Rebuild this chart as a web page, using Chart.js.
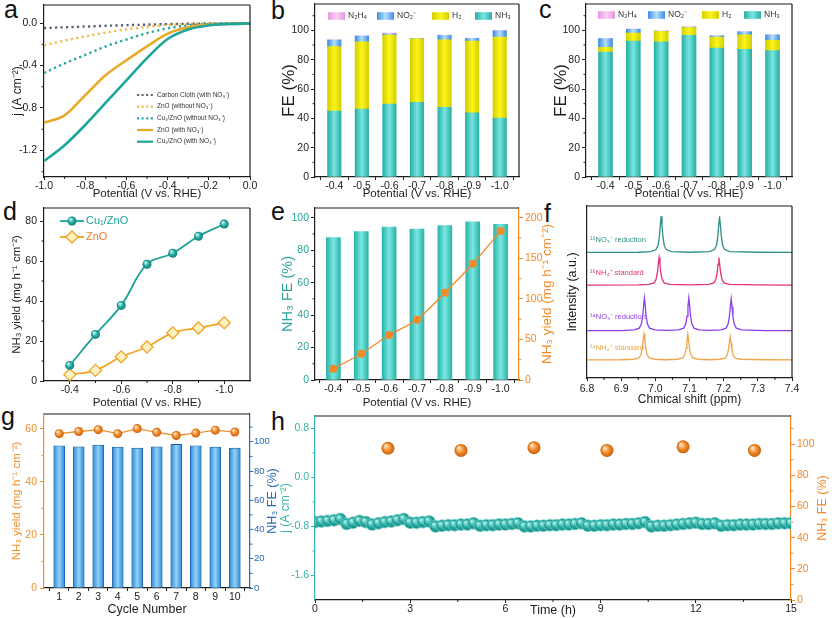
<!DOCTYPE html>
<html><head><meta charset="utf-8">
<script src="https://cdn.jsdelivr.net/npm/chart.js@4.4.0/dist/chart.umd.min.js"></script>
<style>
html,body{margin:0;padding:0;background:#fff;}
#root{position:relative;width:832px;height:618px;overflow:hidden;background:#fff;}
canvas{position:absolute;}
.lbl{position:absolute;font-family:'Liberation Sans',Arial,sans-serif;font-size:25px;color:#111;line-height:1;}
</style></head><body><div id="root">
<div class="lbl" style="left:4px;top:-3px">a</div>
<div class="lbl" style="left:271px;top:-2px">b</div>
<div class="lbl" style="left:539px;top:-3px">c</div>
<div class="lbl" style="left:3px;top:199px">d</div>
<div class="lbl" style="left:271px;top:199px">e</div>
<div class="lbl" style="left:544px;top:201px">f</div>
<div class="lbl" style="left:1px;top:404px">g</div>
<div class="lbl" style="left:271px;top:409px">h</div>
</div>
<script>
// ---------------- DATA ----------------
// (a) LSV curves
const potA = [-1.0,-0.9,-0.8,-0.7,-0.6,-0.5,-0.4,-0.3,-0.2,-0.1,0.0];
const jCuWith     = [-1.30,-1.15,-0.96,-0.75,-0.54,-0.33,-0.15,-0.06,-0.022,-0.009,-0.004];
const jZnOWith    = [-0.94,-0.87,-0.68,-0.49,-0.35,-0.22,-0.10,-0.04,-0.016,-0.008,-0.004];
const jCuWithout  = [-0.47,-0.38,-0.30,-0.22,-0.155,-0.095,-0.05,-0.022,-0.01,-0.005,-0.003];
const jZnOWithout = [-0.21,-0.165,-0.125,-0.09,-0.06,-0.035,-0.018,-0.008,-0.004,-0.002,-0.001];
const jCarbon     = [-0.047,-0.04,-0.033,-0.026,-0.02,-0.015,-0.01,-0.007,-0.004,-0.002,-0.001];
const xTicksA = [-1.0,-0.8,-0.6,-0.4,-0.2,0.0];
const yTicksA = [0.0,-0.4,-0.8,-1.2];

// (b)(c) FE stacks
const potentials = [-0.4,-0.5,-0.6,-0.7,-0.8,-0.9,-1.0];
const feB_NH3  = [45.0,46.3,49.8,50.9,47.5,43.8,40.2];
const feB_H2   = [44.0,45.9,47.0,43.4,46.1,48.9,55.2];
const feB_NO2  = [4.4,3.9,0.8,0.2,3.0,1.8,4.3];
const feB_N2H4 = [0.2,0.2,0.6,0.1,0.2,0.2,0.3];
const feC_NH3  = [85.2,92.7,92.2,96.6,87.9,87.0,86.3];
const feC_H2   = [3.2,5.5,7.1,5.4,7.5,10.0,6.9];
const feC_NO2  = [6.0,2.6,0.2,0.3,0.8,2.0,3.7];
const feC_N2H4 = [0.1,0.1,0.1,0.1,0.1,0.1,0.1];
const feTicks = [0,20,40,60,80,100];

// (d) NH3 yield
const yieldCu  = [7.8,23.3,37.8,58.4,63.9,72.4,78.5];
const yieldZnO = [3.2,5.3,12.1,17.0,24.1,26.5,29.1];
const xTicksD = [-0.4,-0.6,-0.8,-1.0];
const yTicksD = [0,20,40,60,80];

// (e) FE + yield
const feE    = [87.7,91.4,94.3,93.0,95.1,97.5,95.9];
const yieldE = [14.0,32.4,55.4,74.3,107.6,143.3,183.6];
const yTicksE1 = [0,50,100,150,200];

// (f) 1H NMR traces [ppm, intensity]
const nmr15NO3 = [[6.80,73.0],[6.95,73.1],[6.987,73.5],[7.002,74.7],[7.008,77.2],[7.012,82.5],[7.0145,88.8],[7.017,94.0],[7.0195,88.8],[7.022,82.5],[7.026,77.2],[7.032,74.7],[7.047,73.5],[7.10,73.1],[7.158,73.5],[7.173,74.7],[7.179,77.2],[7.183,82.5],[7.1855,88.8],[7.188,94.0],[7.1905,88.8],[7.193,82.5],[7.197,77.2],[7.203,74.7],[7.218,73.5],[7.30,73.1],[7.40,73.0]];
const nmr15NH4 = [[6.80,54.0],[6.95,54.1],[6.981,54.4],[6.996,55.3],[7.002,57.2],[7.006,61.2],[7.0085,66.0],[7.011,70.0],[7.0135,66.0],[7.016,61.2],[7.020,57.2],[7.026,55.3],[7.041,54.4],[7.10,54.1],[7.156,54.4],[7.171,55.3],[7.177,57.2],[7.181,61.2],[7.1835,66.0],[7.186,70.0],[7.1885,66.0],[7.191,61.2],[7.195,57.2],[7.201,55.3],[7.216,54.4],[7.30,54.1],[7.40,54.0]];
const nmr14NO3 = [[6.80,27.5],[6.90,27.6],[6.938,28.0],[6.953,29.0],[6.959,31.3],[6.963,36.05],[6.9655,41.75],[6.968,46.5],[6.9705,41.75],[6.973,36.05],[6.977,31.3],[6.983,29.0],[6.998,28.0],[7.03,27.7],[7.068,28.0],[7.083,29.0],[7.089,31.3],[7.093,36.05],[7.0955,41.75],[7.098,46.5],[7.1005,41.75],[7.103,36.05],[7.107,31.3],[7.113,29.0],[7.128,28.0],[7.16,27.7],[7.192,28.0],[7.207,29.0],[7.213,31.3],[7.217,36.05],[7.2195,41.4],[7.222,46.0],[7.2245,41.4],[7.227,35.8],[7.231,31.2],[7.237,29.0],[7.252,28.0],[7.32,27.6],[7.40,27.5]];
const nmr14NH4 = [[6.80,10.5],[6.90,10.6],[6.937,10.9],[6.952,11.7],[6.958,13.5],[6.962,17.25],[6.9645,21.75],[6.967,25.5],[6.9695,21.75],[6.972,17.25],[6.976,13.5],[6.982,11.7],[6.997,10.9],[7.03,10.6],[7.065,10.9],[7.080,11.7],[7.086,13.5],[7.090,17.25],[7.0925,21.75],[7.095,25.5],[7.0975,21.75],[7.100,17.25],[7.104,13.5],[7.110,11.7],[7.125,10.9],[7.16,10.6],[7.189,10.9],[7.204,11.6],[7.210,13.2],[7.214,16.5],[7.2165,20.5],[7.219,24.0],[7.2215,20.5],[7.224,16.5],[7.228,13.2],[7.234,11.6],[7.249,10.9],[7.32,10.6],[7.40,10.5]];
const xTicksF = [6.8,6.9,7.0,7.1,7.2,7.3,7.4];

// (g) cycling
const cycles = [1,2,3,4,5,6,7,8,9,10];
const yieldG = [58.2,59.0,59.7,58.2,60.1,58.7,57.5,58.4,59.5,58.8];
const feG    = [97.3,96.6,97.7,96.4,95.7,96.6,98.2,97.3,96.4,95.7];
const yTicksG = [0,20,40,60];

// (h) long-term stability
const timeH = [0,0.2,0.4,0.6,0.8,1.0,1.2,1.4,1.6,1.8,2.0,2.2,2.4,2.6,2.8,3.0,3.2,3.4,3.6,3.8,4.0,4.2,4.4,4.6,4.8,5.0,5.2,5.4,5.6,5.8,6.0,6.2,6.4,6.6,6.8,7.0,7.2,7.4,7.6,7.8,8.0,8.2,8.4,8.6,8.8,9.0,9.2,9.4,9.6,9.8,10.0,10.2,10.4,10.6,10.8,11.0,11.2,11.4,11.6,11.8,12.0,12.2,12.4,12.6,12.8,13.0,13.2,13.4,13.6,13.8,14.0,14.2,14.4,14.6,14.8,15.0];
const jH = [-0.73,-0.72,-0.71,-0.70,-0.68,-0.76,-0.74,-0.71,-0.73,-0.77,-0.75,-0.73,-0.72,-0.70,-0.68,-0.74,-0.74,-0.73,-0.72,-0.80,-0.79,-0.78,-0.78,-0.77,-0.77,-0.75,-0.79,-0.78,-0.78,-0.77,-0.77,-0.76,-0.75,-0.80,-0.80,-0.79,-0.79,-0.78,-0.78,-0.77,-0.77,-0.76,-0.75,-0.79,-0.79,-0.78,-0.78,-0.77,-0.77,-0.76,-0.76,-0.75,-0.73,-0.80,-0.79,-0.79,-0.78,-0.77,-0.76,-0.75,-0.74,-0.76,-0.76,-0.75,-0.79,-0.78,-0.78,-0.77,-0.77,-0.77,-0.76,-0.76,-0.76,-0.75,-0.75,-0.75];
const feTimeH = [2.3,4.6,6.9,9.2,11.6,13.85];
const feH = [97.3,95.9,97.7,95.9,98.2,95.9];
const xTicksH = [0,3,6,9,12,15];
const yTicksH = [0.8,0.0,-0.8,-1.6];

// ---------------- STYLE ----------------
const FF = "'Liberation Sans', Arial, Helvetica, sans-serif";
const INK = '#1c1c1c';
const TEAL_A = '#1ea69c', OR_A = '#e8aa2a', YEL_A = '#f1ba4c', GRAY_A = '#596174';
const G_NH3 = ['#2aaea6','#76e6de','#2aaea6'];
const G_H2 = ['#d6cf00','#fbf51c','#d6cf00'];
const G_NO2 = ['#3a8ee6','#b6defa','#3a8ee6'];
const G_N2H4 = ['#e596de','#fbd0f5','#e596de'];
const G_NH3E = ['#2cb3aa','#7ae8e0','#2cb3aa'];
const G_BLUE = ['#2e8ad6','#92d2f8','#2e8ad6'];
const TEAL_D = '#1ba39a', OR_D = '#f0a524';
const TEAL_E = '#2aa39b', OR_E = '#f08a2a';
const OR_G = '#f0902c', BLUE_G = '#2868b0';
const TEAL_H = '#38b2aa', OR_H = '#f08a2a';
const TEAL_SPH = ['#c8f4f0','#21aaa0','#137f78'];
const OR_SPH = ['#ffe2bc','#f08a28','#c8600c'];
const TEAL_SPH2 = ['#a8ece6','#23aba1','#168a82'];
const C15NO3 = '#2e8f87', C15NH4 = '#e2307c', C14NO3 = '#8c3fe6', C14NH4 = '#f0a54a';

// ---------------- HELPERS ----------------
const root = document.getElementById('root');
const fmt = (v, d) => (Math.abs(v) < 1e-9 ? 0 : v).toFixed(d);
const pts = (xs, ys) => xs.map((x, i) => ({x, y: ys[i]}));
const pairs = arr => arr.map(p => ({x: p[0], y: p[1]}));

function sphereGrad(ctx, x, y, r, c) {
  const g = ctx.createRadialGradient(x - r*0.35, y - r*0.4, r*0.1, x, y, r);
  g.addColorStop(0, c[0]); g.addColorStop(0.55, c[1]); g.addColorStop(1, c[2]);
  return g;
}
const sphereBg = (cols, r, yid) => c => {
  if (c.type !== 'data' || !c.chart.chartArea) return cols[1];
  const ch = c.chart;
  const x = ch.scales.x.getPixelForValue(c.parsed.x), y = ch.scales[yid].getPixelForValue(c.parsed.y);
  return sphereGrad(ch.ctx, x, y, r, cols);
};
const barBg = (cols, w) => c => {
  if (c.type !== 'data' || !c.chart.chartArea) return cols[1];
  const ch = c.chart; const x = ch.scales.x.getPixelForValue(c.parsed.x);
  const g = ch.ctx.createLinearGradient(x - w/2, 0, x + w/2, 0);
  g.addColorStop(0, cols[0]); g.addColorStop(0.5, cols[1]); g.addColorStop(1, cols[2]);
  return g;
};
function barDs(xs, ys, cols, w, yid, border) {
  return {type:'bar', data: pts(xs, ys), backgroundColor: barBg(cols, w), barThickness: w,
    borderWidth: border ? 0.8 : 0, borderColor: border || 'transparent', yAxisID: yid || 'y'};
}
function lineDs(xs, ys, color, w, dash) {
  return {data: pts(xs, ys), borderColor: color, borderWidth: w, borderDash: dash || [], pointRadius: 0,
    cubicInterpolationMode: 'monotone', fill: false};
}

function mkAxis(o) {
  const col = o.color || INK;
  const horiz = (o.pos === 'bottom' || o.pos === 'top');
  return {
    type:'linear', position:o.pos, min:o.min, max:o.max, reverse:!!o.reverse, stacked:!!o.stacked,
    offset:false, bounds:'data',
    afterBuildTicks: s => { s.ticks = o.ticks.map(v => ({value: v})); },
    afterFit: s => {
      if (horiz) s.height = o.fix; else s.width = o.fix;
      s.paddingLeft = s.paddingRight = s.paddingTop = s.paddingBottom = 0;
    },
    ticks:{display: o.labels !== false, callback: v => fmt(v, o.dec || 0), color: o.labelColor || col,
      font:{family:FF, size:o.size || 10.5}, padding: o.tpad == null ? (horiz ? 0 : 2) : o.tpad,
      maxRotation:0, minRotation:0, autoSkip:false},
    grid:{display:true, drawOnChartArea:false, drawTicks:true, tickLength: o.tl == null ? (horiz ? 3 : 4) : o.tl, color: col, lineWidth:1},
    border:{display:true, color: col, width:1.2},
    title: o.title ? {display:true, text:o.title, color:o.titleColor || col,
      font:{family:FF, size:o.titleSize || 12}, padding: o.titlePad || 0} : {display:false}
  };
}

function drawShape(ctx, s, off) {
  ctx.save();
  if (s.k === 'line') {
    ctx.strokeStyle = s.c; ctx.lineWidth = s.w || 2; ctx.setLineDash(s.dash || []);
    ctx.beginPath(); ctx.moveTo(s.x1 - off[0], s.y1 - off[1]); ctx.lineTo(s.x2 - off[0], s.y2 - off[1]); ctx.stroke();
  } else if (s.k === 'box') {
    const x = s.x - off[0], y = s.y - off[1];
    const g = ctx.createLinearGradient(x, 0, x + s.w, 0);
    g.addColorStop(0, s.g[0]); g.addColorStop(0.5, s.g[1]); g.addColorStop(1, s.g[2]);
    ctx.fillStyle = g; ctx.fillRect(x, y, s.w, s.h);
  } else if (s.k === 'pt') {
    const x = s.x - off[0], y = s.y - off[1];
    ctx.fillStyle = s.sph ? sphereGrad(ctx, x, y, s.r, s.sph) : s.fill;
    ctx.strokeStyle = s.stroke || 'rgba(0,0,0,0)'; ctx.lineWidth = s.bw || 0;
    Chart.helpers.drawPoint(ctx, {pointStyle: s.style || 'circle', radius: s.r, rotation: 0, borderWidth: s.bw || 0}, x, y);
  }
  ctx.restore();
}

const deco = {
  id: 'deco',
  defaults: {},
  afterDraw(chart, args, o) {
    const ctx = chart.ctx, ca = chart.chartArea, off = o.off || [0, 0];
    ctx.save();
    ctx.lineWidth = 1.2;
    if (o.top) { ctx.strokeStyle = o.top; ctx.beginPath(); ctx.moveTo(ca.left, ca.top); ctx.lineTo(ca.right, ca.top); ctx.stroke(); }
    if (o.right) { ctx.strokeStyle = o.right; ctx.beginPath(); ctx.moveTo(ca.right, ca.top); ctx.lineTo(ca.right, ca.bottom); ctx.stroke(); }
    (o.minor || []).forEach(m => {
      const s = chart.scales[m.id]; const majors = s.ticks.map(t => t.value);
      ctx.strokeStyle = s.options.grid.color; ctx.lineWidth = 1;
      const k0 = Math.ceil(s.min / m.step - 1e-6), k1 = Math.floor(s.max / m.step + 1e-6);
      for (let k = k0; k <= k1; k++) {
        const v = k * m.step;
        if (majors.some(mv => Math.abs(mv - v) < m.step * 0.05)) continue;
        if (Math.abs(v - s.min) < m.step * 0.05 || Math.abs(v - s.max) < m.step * 0.05) continue;
        const p = s.getPixelForValue(v);
        ctx.beginPath();
        if (s.position === 'bottom') { ctx.moveTo(p, ca.bottom); ctx.lineTo(p, ca.bottom + 2); }
        else if (s.position === 'left') { ctx.moveTo(ca.left, p); ctx.lineTo(ca.left - 2.5, p); }
        else { ctx.moveTo(ca.right, p); ctx.lineTo(ca.right + 2.5, p); }
        ctx.stroke();
      }
    });
    (o.shapes || []).forEach(sh => drawShape(ctx, sh, off));
    (o.texts || []).forEach(t => {
      ctx.save();
      ctx.font = (t.size) + 'px ' + FF;
      ctx.fillStyle = t.color || INK;
      ctx.textAlign = t.align || 'left'; ctx.textBaseline = 'middle';
      ctx.translate(t.x - off[0], t.y - off[1]);
      if (t.rot) ctx.rotate(t.rot);
      ctx.fillText(t.text, 0, 0);
      ctx.restore();
    });
    ctx.restore();
  }
};
Chart.register(deco);

function baseOpts(pad, scales, d) {
  return {
    responsive:false, animation:false, events:[],
    layout:{padding:{top:pad.top || 0, right:pad.right || 0, left:0, bottom:0}},
    plugins:{legend:{display:false}, tooltip:{enabled:false}, deco: d},
    scales
  };
}
function makeChart(box, cfg) {
  const c = document.createElement('canvas');
  c.width = box.w; c.height = box.h;
  c.style.left = box.l + 'px'; c.style.top = box.t + 'px';
  c.style.width = box.w + 'px'; c.style.height = box.h + 'px';
  root.appendChild(c);
  return new Chart(c, cfg);
}
function legendLines(rows, x1, x2, tx, size, w) {
  const sh = [], tx_ = [];
  rows.forEach(r => {
    sh.push({k:'line', x1, x2, y1:r.y, y2:r.y, c:r.c, w, dash: r.d ? [2, 2.6] : []});
    tx_.push({x:tx, y:r.y, text:r.t, size, color:'#333'});
  });
  return {sh, tx: tx_};
}
function legendBoxes(items, y, size) {
  const sh = [], tx = [];
  items.forEach(it => {
    sh.push({k:'box', x:it.x, y:y - 3.8, w:17, h:7.6, g:it.g});
    tx.push({x:it.x + 20, y:y, text:it.t, size, color:'#333'});
  });
  return {sh, tx};
}
const PI = Math.PI;

// ---------------- (a) ----------------
const legA = legendLines([
  {y:95, c:GRAY_A, d:true, t:'Carbon Cloth (with NO₃⁻)'},
  {y:106.7, c:YEL_A, d:true, t:'ZnO (without NO₃⁻)'},
  {y:118.3, c:TEAL_A, d:true, t:'Cu₁/ZnO (without NO₃⁻)'},
  {y:130, c:OR_A, d:false, t:'ZnO (with NO₃⁻)'},
  {y:141.7, c:TEAL_A, d:false, t:'Cu₁/ZnO (with NO₃⁻)'}
], 137, 153, 157, 6.5, 2.2);
makeChart({l:0, t:0, w:270, h:201}, {
  type:'line',
  data:{datasets:[
    lineDs(potA, jCuWith, TEAL_A, 2.6),
    lineDs(potA, jZnOWith, OR_A, 2.6),
    lineDs(potA, jCuWithout, TEAL_A, 2.4, [2.2, 3.3]),
    lineDs(potA, jZnOWithout, YEL_A, 2.4, [2.2, 3.3]),
    lineDs(potA, jCarbon, GRAY_A, 2.4, [2.2, 3.3])
  ]},
  options: baseOpts({top:5, right:20}, {
    x: mkAxis({pos:'bottom', min:-1.0, max:0.0, ticks:xTicksA, dec:1, fix:24, title:'Potential (V vs. RHE)', titleSize:11.5}),
    y: mkAxis({pos:'left', min:-1.45, max:0.17, ticks:yTicksA, dec:1, fix:44, tpad:3, title:'j (A cm⁻²)', titleSize:12, titlePad:{top:10, bottom:0}})
  }, {off:[0,0], top:INK, right:INK, minor:[{id:'x', step:0.1}, {id:'y', step:0.2}], shapes:legA.sh, texts:legA.tx})
});

// ---------------- (b) ----------------
const legB = legendBoxes([{x:328, t:'N₂H₄', g:G_N2H4}, {x:377, t:'NO₂⁻', g:G_NO2}, {x:432, t:'H₂', g:G_H2}, {x:475, t:'NH₃', g:G_NH3}], 16, 8.5);
makeChart({l:279, t:0, w:260, h:201}, {
  type:'bar',
  data:{datasets:[
    barDs(potentials, feB_NH3, G_NH3, 13.5),
    barDs(potentials, feB_H2, G_H2, 13.5),
    barDs(potentials, feB_NO2, G_NO2, 13.5),
    barDs(potentials, feB_N2H4, G_N2H4, 13.5)
  ]},
  options: baseOpts({top:4, right:20}, {
    x: mkAxis({pos:'bottom', min:-1.07, max:-0.33, reverse:true, stacked:true, ticks:potentials, dec:1, fix:24, title:'Potential (V vs. RHE)', titleSize:11.5}),
    y: mkAxis({pos:'left', min:0, max:118, stacked:true, ticks:feTicks, dec:0, fix:36, title:'FE (%)', titleSize:17})
  }, {off:[279,0], top:INK, right:INK, minor:[{id:'y', step:10}], shapes:legB.sh, texts:legB.tx})
});

// ---------------- (c) ----------------
const legC = legendBoxes([{x:598, t:'N₂H₄', g:G_N2H4}, {x:648, t:'NO₂⁻', g:G_NO2}, {x:702, t:'H₂', g:G_H2}, {x:744, t:'NH₃', g:G_NH3}], 15, 8.5);
makeChart({l:551, t:0, w:281, h:201}, {
  type:'bar',
  data:{datasets:[
    barDs(potentials, feC_NH3, G_NH3, 14),
    barDs(potentials, feC_H2, G_H2, 14),
    barDs(potentials, feC_NO2, G_NO2, 14),
    barDs(potentials, feC_N2H4, G_N2H4, 14)
  ]},
  options: baseOpts({top:4, right:40}, {
    x: mkAxis({pos:'bottom', min:-1.07, max:-0.33, reverse:true, stacked:true, ticks:potentials, dec:1, fix:24, title:'Potential (V vs. RHE)', titleSize:11.5}),
    y: mkAxis({pos:'left', min:0, max:118, stacked:true, ticks:feTicks, dec:0, fix:35, title:'FE (%)', titleSize:17})
  }, {off:[551,0], top:INK, right:INK, minor:[{id:'y', step:10}], shapes:legC.sh, texts:legC.tx})
});

// ---------------- (d) ----------------
makeChart({l:0, t:200, w:270, h:210}, {
  type:'line',
  data:{datasets:[
    {data: pts(potentials, yieldCu), borderColor:TEAL_D, borderWidth:1.8, tension:0.4, pointRadius:4.5,
     pointBackgroundColor: sphereBg(TEAL_SPH, 4.5, 'y'), pointBorderWidth:0},
    {data: pts(potentials, yieldZnO), borderColor:OR_D, borderWidth:1.8, tension:0.4, pointStyle:'rectRot', pointRadius:6,
     pointBackgroundColor:'#fdf1c2', pointBorderColor:OR_D, pointBorderWidth:1.3}
  ]},
  options: baseOpts({top:8, right:20}, {
    x: mkAxis({pos:'bottom', min:-1.1, max:-0.3, reverse:true, ticks:xTicksD, dec:1, fix:29, title:'Potential (V vs. RHE)', titleSize:11.5}),
    y: mkAxis({pos:'left', min:0, max:86.5, ticks:yTicksD, dec:0, fix:44, tpad:3, title:'NH₃ yield (mg h⁻¹ cm⁻²)', titleSize:11.5, titlePad:{top:10, bottom:0}})
  }, {off:[0,200], top:INK, right:INK, minor:[{id:'x', step:0.1}, {id:'y', step:10}],
      shapes:[
        {k:'line', x1:60, x2:84, y1:221, y2:221, c:TEAL_D, w:1.8},
        {k:'pt', x:72, y:221, r:4.5, sph:TEAL_SPH},
        {k:'line', x1:60, x2:84, y1:237, y2:237, c:OR_D, w:1.8},
        {k:'pt', x:72, y:237, r:6, style:'rectRot', fill:'#fdf1c2', stroke:OR_D, bw:1.3}
      ],
      texts:[
        {x:86, y:221, text:'Cu₁/ZnO', size:11, color:TEAL_D},
        {x:86, y:237, text:'ZnO', size:11, color:'#f07c2a'}
      ]})
});

// ---------------- (e) ----------------
makeChart({l:279, t:200, w:276, h:210}, {
  type:'bar',
  data:{datasets:[
    {type:'line', data: pts(potentials, yieldE), yAxisID:'y1', borderColor:OR_E, borderWidth:1.3, tension:0.3,
     pointRadius:4, pointBackgroundColor:OR_E, pointBorderWidth:0},
    barDs(potentials, feE, G_NH3E, 14, 'y')
  ]},
  options: baseOpts({top:8}, {
    x: mkAxis({pos:'bottom', min:-1.066, max:-0.334, reverse:true, ticks:potentials, dec:1, fix:30, title:'Potential (V vs. RHE)', titleSize:11.5}),
    y: mkAxis({pos:'left', min:0, max:106, ticks:feTicks, dec:0, fix:36, color:INK, labelColor:TEAL_E, title:'NH₃ FE (%)', titleColor:TEAL_E, titleSize:14.5}),
    y1: mkAxis({pos:'right', min:0, max:212, ticks:yTicksE1, dec:0, fix:36, color:OR_E})
  }, {off:[279,200], top:INK, minor:[{id:'y', step:10}, {id:'y1', step:25}],
      texts:[{x:547, y:294, rot:-PI/2, text:'NH₃ yield (mg h⁻¹ cm⁻²)', size:13.5, color:OR_E, align:'center'}]})
});

// ---------------- (f) ----------------
const nmrDs = (arr, c) => ({data: pairs(arr), borderColor:c, borderWidth:1.3, pointRadius:0, tension:0});
makeChart({l:565, t:200, w:267, h:210}, {
  type:'line',
  data:{datasets:[nmrDs(nmr15NO3, C15NO3), nmrDs(nmr15NH4, C15NH4), nmrDs(nmr14NO3, C14NO3), nmrDs(nmr14NH4, C14NH4)]},
  options: baseOpts({top:6, right:40}, {
    x: mkAxis({pos:'bottom', min:6.8, max:7.4, ticks:xTicksF, dec:1, fix:32, tpad:2, title:'Chmical shift (ppm)', titleSize:12, titlePad:{top:0, bottom:3}}),
    y: mkAxis({pos:'left', min:0, max:100, ticks:[], labels:false, tl:0, fix:22, title:'Intensity (a.u.)', titleSize:12.5})
  }, {off:[565,200], top:INK, right:INK, minor:[{id:'x', step:0.05}],
      texts:[
        {x:590, y:240, text:'¹⁵NO₃⁻ reduction', size:7.5, color:C15NO3},
        {x:590, y:273, text:'¹⁵NH₄⁺ standard', size:7.5, color:C15NH4},
        {x:590, y:317, text:'¹⁴NO₃⁻ reduction', size:7.5, color:C14NO3},
        {x:590, y:348, text:'¹⁴NH₄⁺ standard', size:7.5, color:C14NH4}
      ]})
});

// ---------------- (g) ----------------
makeChart({l:0, t:405, w:280, h:213}, {
  type:'bar',
  data:{datasets:[
    {type:'line', data: pts(cycles, yieldG), yAxisID:'y', borderColor:OR_G, borderWidth:1.3, tension:0,
     pointRadius:4.5, pointBackgroundColor: sphereBg(OR_SPH, 4.5, 'y'), pointBorderWidth:0},
    barDs(cycles, feG, G_BLUE, 11, 'y1', '#1d5f9f')
  ]},
  options: baseOpts({top:9}, {
    x: mkAxis({pos:'bottom', min:0.22, max:10.78, ticks:cycles, dec:0, fix:30, title:'Cycle Number', titleSize:12.5, titlePad:{top:0, bottom:1}}),
    y: mkAxis({pos:'left', min:0, max:65.6, ticks:yTicksG, dec:0, fix:44, tpad:3, color:OR_G, title:'NH₃ yield (mg h⁻¹ cm⁻²)', titleSize:11.5, titlePad:{top:10, bottom:0}}),
    y1: mkAxis({pos:'right', min:0, max:119, ticks:feTicks, dec:0, fix:30, color:BLUE_G, size:9.5, tpad:1, tl:3})
  }, {off:[0,405], top:INK, minor:[{id:'y', step:10}, {id:'y1', step:10}],
      texts:[{x:273, y:501, rot:-PI/2, text:'NH₃ FE (%)', size:12.5, color:BLUE_G, align:'center'}]})
});

// ---------------- (h) ----------------
makeChart({l:278, t:405, w:554, h:213}, {
  type:'scatter',
  data:{datasets:[
    {data: pts(feTimeH, feH), yAxisID:'y1', pointRadius:6.5, pointBackgroundColor: sphereBg(OR_SPH, 6.5, 'y1'), pointBorderWidth:0},
    {data: pts(timeH, jH), yAxisID:'y', pointRadius:6, pointBackgroundColor: sphereBg(TEAL_SPH2, 6, 'y'), pointBorderWidth:0.8, pointBorderColor:'#7fd6cf'}
  ]},
  options: baseOpts({top:11}, {
    x: mkAxis({pos:'bottom', min:0, max:15, ticks:xTicksH, dec:0, fix:18, title:'Time (h)', titleSize:12.5}),
    y: mkAxis({pos:'left', min:-2.0, max:1.0, ticks:yTicksH, dec:1, fix:37, color:TEAL_H, title:'j (A cm⁻²)', titleSize:12}),
    y1: mkAxis({pos:'right', min:0, max:118, ticks:feTicks, dec:0, fix:41, color:OR_H})
  }, {off:[278,405], top:INK, minor:[{id:'x', step:1.5}, {id:'y', step:0.4}, {id:'y1', step:10}],
      texts:[{x:823, y:508, rot:-PI/2, text:'NH₃ FE (%)', size:12.5, color:OR_H, align:'center'}]})
});
</script>
</body></html>
